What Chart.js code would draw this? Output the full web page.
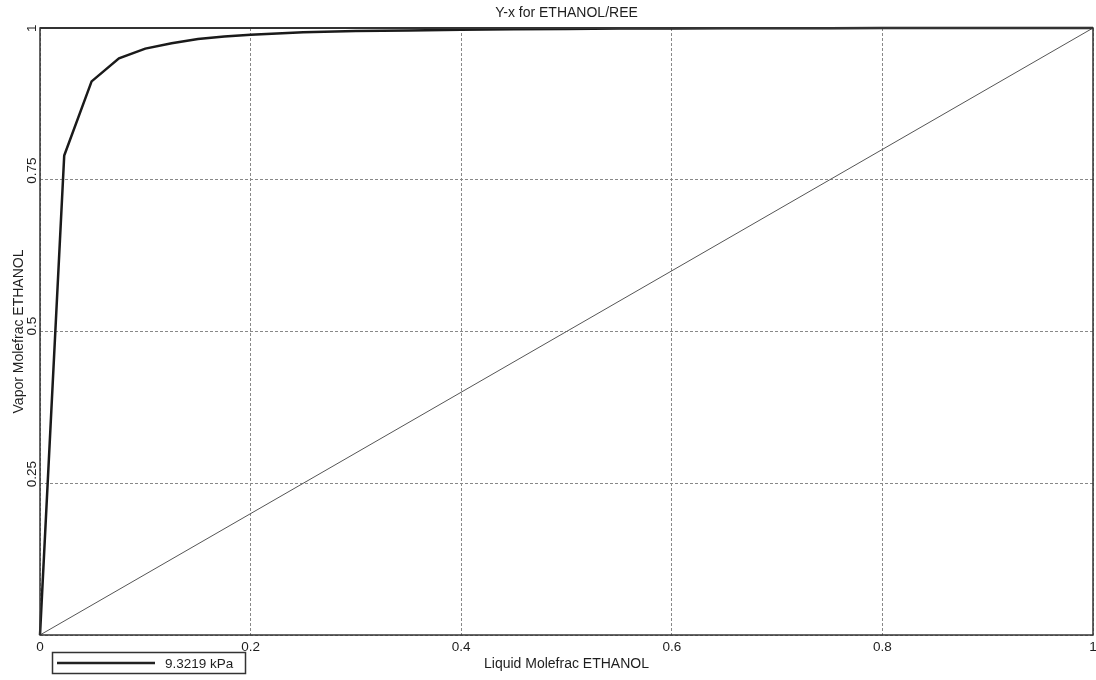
<!DOCTYPE html>
<html>
<head>
<meta charset="utf-8">
<style>
  html, body { margin: 0; padding: 0; background: #fff; }
  #wrap { width: 1096px; height: 680px; position: relative; }
</style>
<script src="https://cdn.jsdelivr.net/npm/chart.js@4/dist/chart.umd.min.js"></script>
</head>
<body>
<div id="wrap"><canvas id="c" width="1096" height="680"></canvas></div>
<script>
// ---- data ----
const chartTitle = "Y-x for ETHANOL/REE";
const xAxisTitle = "Liquid Molefrac ETHANOL";
const yAxisTitle = "Vapor Molefrac ETHANOL";
const seriesLabel = "9.3219 kPa";
const liquidX = [0, 0.023, 0.049, 0.075, 0.1, 0.125, 0.15, 0.175, 0.2, 0.25, 0.3, 0.35, 0.4, 0.45, 0.5, 0.55, 0.6, 0.65, 0.7, 0.75, 0.8, 0.85, 0.9, 0.95, 1];
const vaporY  = [0, 0.79, 0.912, 0.95, 0.966, 0.975, 0.982, 0.986, 0.989, 0.993, 0.995, 0.996, 0.997, 0.998, 0.9985, 0.999, 0.9993, 0.9995, 0.9996, 0.9997, 0.9998, 0.9999, 0.9999, 1, 1];
const diagX = [0, 1];
const diagY = [0, 1];
const xTickValues = [0, 0.2, 0.4, 0.6, 0.8, 1];
const xTickLabels = ["0", "0.2", "0.4", "0.6", "0.8", "1"];
const yTickValues = [0.25, 0.5, 0.75, 1];
const yTickLabels = ["0.25", "0.5", "0.75", "1"];

const FONT = '13.5px "Liberation Sans", Arial, sans-serif';
const FONT_BIG = '14px "Liberation Sans", Arial, sans-serif';

const textPlugin = {
  id: 'texts',
  afterDraw(chart) {
    const ctx = chart.ctx;
    const a = chart.chartArea;
    const xs = chart.scales.x, ys = chart.scales.y;
    ctx.save();
    // frame
    ctx.strokeStyle = '#333';
    ctx.lineWidth = 1.5;
    ctx.strokeRect(a.left, a.top, a.right - a.left, a.bottom - a.top);
    ctx.lineWidth = 2;
    ctx.beginPath(); ctx.moveTo(a.left, a.top); ctx.lineTo(a.right, a.top); ctx.stroke();

    ctx.fillStyle = '#1e1e1e';
    // title
    ctx.font = FONT_BIG;
    ctx.textAlign = 'center'; ctx.textBaseline = 'middle';
    ctx.fillText(chartTitle, (a.left + a.right) / 2, 13);
    // x title
    ctx.fillText(xAxisTitle, (a.left + a.right) / 2, 664);
    // y title
    ctx.save();
    ctx.translate(19, (a.top + a.bottom) / 2);
    ctx.rotate(-Math.PI / 2);
    ctx.fillText(yAxisTitle, 0, 0);
    ctx.restore();

    ctx.font = FONT;
    // x ticks
    xTickValues.forEach((v, i) => {
      ctx.fillText(xTickLabels[i], xs.getPixelForValue(v), a.bottom + 12);
    });
    // y ticks rotated
    yTickValues.forEach((v, i) => {
      ctx.save();
      ctx.translate(32, ys.getPixelForValue(v) + 4);
      ctx.rotate(-Math.PI / 2);
      ctx.textAlign = 'left'; ctx.textBaseline = 'middle';
      ctx.fillText(yTickLabels[i], 0, 0);
      ctx.restore();
    });
    // legend
    ctx.strokeStyle = '#333';
    ctx.lineWidth = 1.5;
    ctx.strokeRect(52.5, 652.5, 193, 21);
    ctx.strokeStyle = '#222';
    ctx.lineWidth = 2.5;
    ctx.beginPath(); ctx.moveTo(57, 663); ctx.lineTo(155, 663); ctx.stroke();
    ctx.textAlign = 'left'; ctx.textBaseline = 'middle';
    ctx.fillText(seriesLabel, 165, 664);
    ctx.restore();
  }
};

new Chart(document.getElementById('c'), {
  type: 'scatter',
  data: {
    datasets: [
      {
        label: seriesLabel,
        data: liquidX.map((x, i) => ({ x: x, y: vaporY[i] })),
        showLine: true,
        borderColor: '#1a1a1a',
        borderWidth: 2.5,
        pointRadius: 0,
        tension: 0,
        clip: false
      },
      {
        label: 'diagonal',
        data: diagX.map((x, i) => ({ x: x, y: diagY[i] })),
        showLine: true,
        borderColor: '#555',
        borderWidth: 1,
        pointRadius: 0,
        tension: 0
      }
    ]
  },
  options: {
    responsive: false,
    animation: false,
    devicePixelRatio: 1,
    layout: { padding: { left: 40, right: 3, top: 28, bottom: 45 } },
    plugins: { legend: { display: false }, title: { display: false }, tooltip: { enabled: false } },
    scales: {
      x: {
        type: 'linear', min: 0, max: 1,
        ticks: { display: false, stepSize: 0.2 },
        grid: { color: '#888', lineWidth: 1, drawTicks: false },
        border: { display: false, dash: [3, 2] }
      },
      y: {
        type: 'linear', min: 0, max: 1,
        ticks: { display: false, stepSize: 0.25 },
        grid: { color: '#888', lineWidth: 1, drawTicks: false },
        border: { display: false, dash: [3, 2] }
      }
    }
  },
  plugins: [textPlugin]
});
</script>
</body>
</html>
